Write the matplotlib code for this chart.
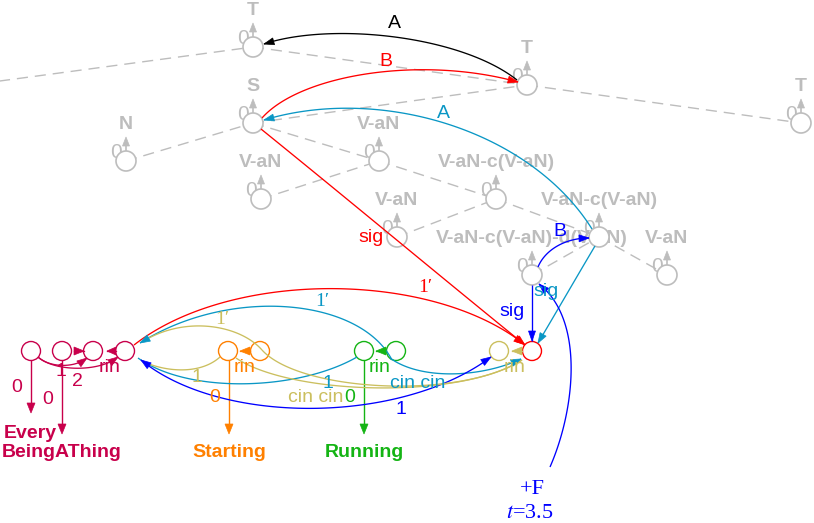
import numpy as np
import matplotlib
matplotlib.use("Agg")
import matplotlib.pyplot as plt
from matplotlib.patches import Circle, Polygon

plt.rcParams["mathtext.fontset"] = "stix"

W, H = 814, 523
SANS = "Liberation Sans"
SERIF = "Liberation Serif"
FS = 14

GRAY = "#bdbdbd"
CRIMSON = "#c8004b"
ORANGE = "#ff8000"
GREEN = "#14b414"
OLIVE = "#cbbf5e"
CYAN = "#0a97c5"
BLUE = "#0000ff"
RED = "#ff0000"

# ---- grey parse tree ----
tree_names = ["X", "T1", "T2", "T3", "S", "N", "V1", "V2", "V3", "C1", "C2", "D", "V4"]
tree_x = [-30, 253, 527, 801, 253, 126, 379, 261, 397, 496, 599, 532, 667]
tree_y = [85, 47, 85, 123, 123, 161, 161, 199, 237, 199, 237, 275, 275]
tree_labels = [None, "T", "T", "T", "S", "N", "V-aN", "V-aN", "V-aN",
               "V-aN-c(V-aN)", "V-aN-c(V-aN)", "V-aN-c(V-aN)-d(V-aN)", "V-aN"]
tree_edges = [("X", "T1"), ("T1", "T2"), ("T2", "T3"), ("S", "T2"), ("N", "S"),
              ("S", "V1"), ("V1", "C1"), ("V2", "V1"), ("C1", "C2"), ("V3", "C1"),
              ("C2", "V4"), ("D", "C2")]

# ---- coloured row of nodes ----
row_x = [31, 62, 93, 125, 228, 260, 364, 396, 499, 532]
row_y = 351
row_colors = [CRIMSON] * 4 + [ORANGE] * 2 + [GREEN] * 2 + [OLIVE, RED]

# short arrows between neighbouring nodes: (tip x, base x, colour)
short_arrows = [(84, 74, CRIMSON), (107, 116, CRIMSON), (240, 250, ORANGE),
                (376, 386, GREEN), (512, 522, OLIVE)]
# downward arrows to the word labels: (x, bottom y, colour)
drop_arrows = [(31, 413, CRIMSON), (62, 434, CRIMSON), (229, 434, ORANGE), (364, 434, GREEN)]

# curves: colour, 4 bezier control points, arrow at end, arrow at start
curves = [
    ("black", (517, 80), (460, 35), (330, 22), (264, 44), True, False),
    (RED, (262, 118), (300, 75), (420, 55), (518, 82), True, False),
    (CYAN, (592, 229), (530, 130), (380, 85), (264, 120), True, False),
    (RED, (261, 129), (350, 201), (435, 272), (525, 345), True, False),
    (BLUE, (538, 267), (545, 250), (565, 238), (589, 238), True, False),
    (BLUE, (532, 285), (532, 305), (532, 322), (532, 341), True, False),
    (CYAN, (595, 246), (576, 278), (557, 311), (538, 343), True, False),
    (BLUE, (550, 467), (575, 410), (585, 320), (539, 284), True, False),
    (RED, (134, 345), (230, 270), (430, 270), (524, 344), True, False),
    (CYAN, (392, 360), (360, 298), (230, 286), (140, 343), True, False),
    (CYAN, (390, 358), (420, 380), (480, 378), (521, 359), True, False),
    (CYAN, (138, 358), (190, 395), (300, 390), (357, 357), False, False),
    (BLUE, (141, 360), (220, 425), (400, 425), (491, 357), True, True),
    (OLIVE, (142, 342), (185, 315), (240, 325), (262, 350), False, False),
    (OLIVE, (262, 350), (300, 392), (460, 400), (522, 360), False, False),
    (OLIVE, (220, 357), (200, 375), (165, 372), (142, 361), False, False),
    (OLIVE, (236, 358), (290, 395), (460, 400), (522, 360), False, False),
    (CRIMSON, (38, 357), (50, 368), (75, 368), (87, 358), True, False),
    (CRIMSON, (38, 357), (55, 372), (100, 372), (118, 357), True, False),
]

# edge labels: text, x, y, colour, family
edge_labels = [
    ("A", 394, 24, "black", SANS), ("B", 386, 61, RED, SANS),
    ("A", 443, 113, CYAN, SANS), ("sig", 371, 237, RED, SANS),
    ("B", 560, 232, BLUE, SANS), ("sig", 512, 312, BLUE, SANS),
    ("sig", 546, 292, CYAN, SANS),
    ("1\u2032", 425, 288, RED, SERIF), ("1\u2032", 322, 302, CYAN, SERIF),
    ("1\u2032", 222, 320, OLIVE, SERIF),
    ("1", 197, 378, OLIVE, SANS), ("1", 328, 384, CYAN, SANS),
    ("cin cin", 418, 383, CYAN, SANS), ("cin cin", 316, 398, OLIVE, SANS),
    ("0", 350, 398, GREEN, SANS), ("1", 401, 409, BLUE, SANS),
    ("rin", 110, 367, CRIMSON, SANS), ("rin", 245, 367, ORANGE, SANS),
    ("rin", 380, 368, GREEN, SANS), ("rin", 515, 367, OLIVE, SANS),
    ("0", 17, 388, CRIMSON, SANS), ("0", 48, 399, CRIMSON, SANS),
    ("0", 215, 398, ORANGE, SANS),
    ("1", 61, 371, CRIMSON, SANS), ("2", 77, 382, CRIMSON, SANS),
]

# bold word labels: text, x, baseline, colour
word_labels = [("Every", 30, 438, CRIMSON), ("BeingAThing", 62, 457, CRIMSON),
               ("Starting", 229, 457, ORANGE), ("Running", 364, 457, GREEN)]


def bez(p0, p1, p2, p3, n=100):
    p0, p1, p2, p3 = (np.array(p, float) for p in (p0, p1, p2, p3))
    t = np.linspace(0, 1, n)[:, None]
    return (1 - t) ** 3 * p0 + 3 * (1 - t) ** 2 * t * p1 + 3 * (1 - t) * t ** 2 * p2 + t ** 3 * p3


def head(ax, tip, d, color, L=10, w=3.5, z=5):
    tip = np.array(tip, float)
    d = np.array(d, float)
    d = d / np.linalg.norm(d)
    n = np.array([-d[1], d[0]])
    base = tip - L * d
    ax.add_patch(Polygon([tip, base + w * n, base - w * n], closed=True,
                         facecolor=color, edgecolor=color, lw=0.5, zorder=z))


fig = plt.figure(figsize=(W / 100, H / 100), dpi=100)
ax = fig.add_axes([0, 0, 1, 1])
ax.set_xlim(0, W)
ax.set_ylim(H, 0)
ax.axis("off")

pos = {n: (x, y) for n, x, y in zip(tree_names, tree_x, tree_y)}

# dashed tree edges
for a, b in tree_edges:
    (x1, y1), (x2, y2) = pos[a], pos[b]
    ax.plot([x1, x2], [y1, y2], color=GRAY, lw=1, ls=(0, (8, 5)), zorder=1)

# grey nodes with "0" self-loop marker and label
for name, x, y, lab in zip(tree_names, tree_x, tree_y, tree_labels):
    if lab is None:
        continue
    ax.add_patch(Circle((x, y), 10, facecolor="white", edgecolor=GRAY, lw=1.2, zorder=3))
    ax.text(x - 10, y - 9, "0", color=GRAY, fontsize=15, family=SANS,
            ha="center", va="center", zorder=2)
    ax.plot([x, x], [y - 10, y - 16], color=GRAY, lw=1.2, zorder=2)
    head(ax, (x, y - 24), (0, -1), GRAY, L=9, w=3.5, z=2)
    ax.text(x, y - 32, lab, color=GRAY, fontsize=FS, family=SANS, weight="bold",
            ha="center", va="baseline", zorder=2)

# coloured nodes
for x, c in zip(row_x, row_colors):
    ax.add_patch(Circle((x, row_y), 9.5, facecolor="none", edgecolor=c, lw=1.0, zorder=4))

for tip, base, c in short_arrows:
    ax.plot([base, tip], [row_y, row_y], color=c, lw=0.9, zorder=4)
    head(ax, (tip, row_y), (tip - base, 0), c, L=abs(tip - base), w=4)

for x, yb, c in drop_arrows:
    ax.plot([x, x], [row_y + 9.5, yb - 5], color=c, lw=1.0, zorder=4)
    head(ax, (x, yb), (0, 1), c, L=10, w=4)

# curved edges
for c, p0, p1, p2, p3, a_end, a_start in curves:
    pts = bez(p0, p1, p2, p3)
    ax.plot(pts[:, 0], pts[:, 1], color=c, lw=0.95, zorder=4, solid_capstyle="butt")
    if a_end:
        head(ax, p3, np.subtract(p3, pts[-8]), c)
    if a_start:
        head(ax, p0, np.subtract(p0, pts[7]), c)

for txt, x, y, c, fam in edge_labels:
    ax.text(x, y, txt, color=c, fontsize=FS, family=fam, ha="center", va="center", zorder=6)

for txt, x, y, c in word_labels:
    ax.text(x, y, txt, color=c, fontsize=FS, family=SANS, weight="bold",
            ha="center", va="baseline", zorder=6)

ax.text(532, 489, "+F", color=BLUE, fontsize=16, family=SERIF, ha="center", va="center")
ax.text(530, 513, "$t$=3.5", color=BLUE, fontsize=16, family=SERIF, ha="center", va="center")

fig.savefig("out.png", dpi=100)
